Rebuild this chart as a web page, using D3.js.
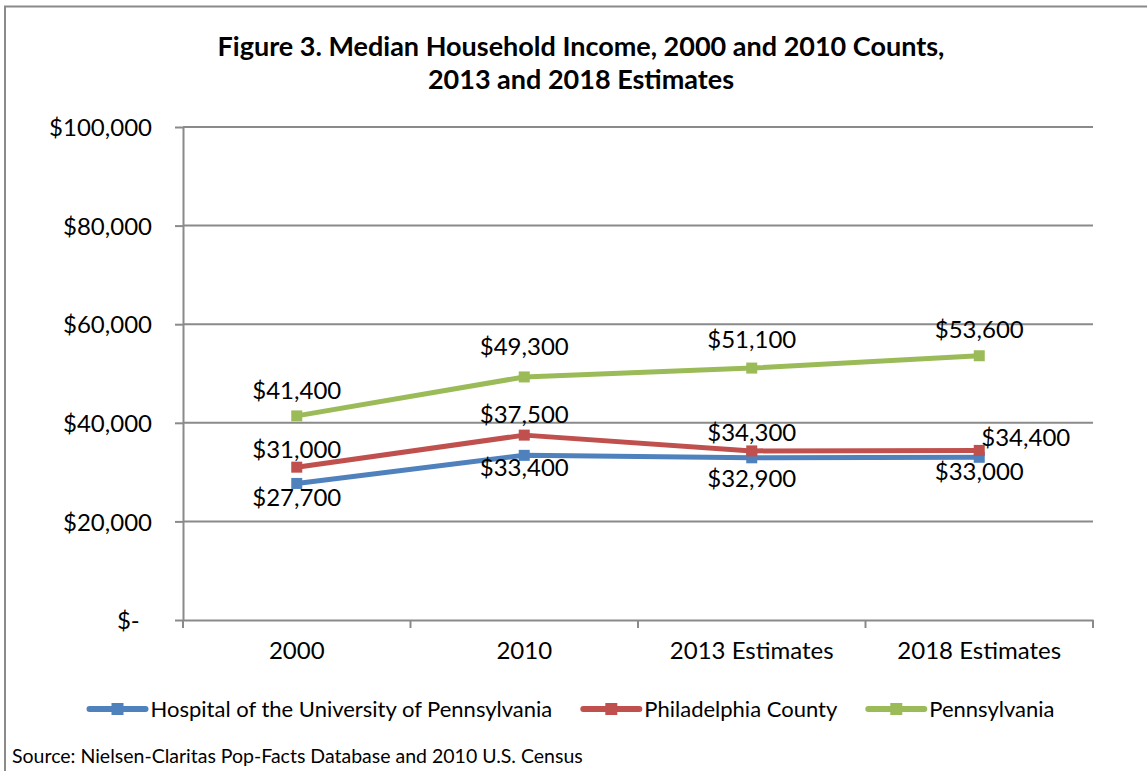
<!DOCTYPE html>
<html>
<head>
<meta charset="utf-8">
<script src="https://cdn.jsdelivr.net/npm/d3@7"></script>
<style>
  body { margin: 0; background: #fff; }
  svg text { font-family: Lato, "Open Sans", sans-serif; fill: #000; }
  .axis path, .axis line { stroke: #8a8a8a; stroke-width: 2; }
  .axis text { font-size: 24px; }
  .title { font-size: 27px; font-weight: bold; }
  .value-label { font-size: 24px; }
  .legend text { font-size: 22px; }
  .source { font-size: 19.5px; }
</style>
</head>
<body>
<div id="chart"></div>
<script>
// Chart data
const categories = ['2000', '2010', '2013 Estimates', '2018 Estimates'];
const seriesNames = ['Hospital of the University of Pennsylvania', 'Philadelphia County', 'Pennsylvania'];
const hospitalValues = [27700, 33400, 32900, 33000];
const philadelphiaValues = [31000, 37500, 34300, 34400];
const pennsylvaniaValues = [41400, 49300, 51100, 53600];
const yTicks = [0, 20000, 40000, 60000, 80000, 100000];

const colors = ['#4f81bd', '#c0504d', '#9bbb59'];

const series = [
    { name: seriesNames[0], values: hospitalValues, color: colors[0] },
    { name: seriesNames[1], values: philadelphiaValues, color: colors[1] },
    { name: seriesNames[2], values: pennsylvaniaValues, color: colors[2] }
];

// label offsets (vertical distance of label centre from point), 'r' = to the right
const labelOffsets = [
    [14, 12, 21, 14],
    [-18, -21, -19, 'r'],
    [-26, -31, -29, -26]
];

const W = 1147, H = 771;
const margin = { top: 127, right: 54, bottom: 151, left: 183 };
const width = W - margin.left - margin.right;
const height = H - margin.top - margin.bottom;

const root = d3.select('#chart')
    .append('svg')
    .attr('width', W)
    .attr('height', H);

// outer frame
root.append('rect')
    .attr('x', 5)
    .attr('y', 6.5)
    .attr('width', W + 20)
    .attr('height', H + 20)
    .attr('fill', 'none')
    .attr('stroke', '#8a8a8a')
    .attr('stroke-width', 2);

// title
const title = root.append('text')
    .attr('class', 'title')
    .attr('text-anchor', 'middle');
title.append('tspan').attr('x', 581).attr('y', 56)
    .text('Figure 3. Median Household Income, 2000 and 2010 Counts,');
title.append('tspan').attr('x', 581).attr('y', 89)
    .text('2013 and 2018 Estimates');

const svg = root.append('g')
    .attr('transform', `translate(${margin.left},${margin.top})`);

const x = d3.scaleBand()
    .domain(categories)
    .range([0, width]);

const y = d3.scaleLinear()
    .domain([0, 100000])
    .range([height, 0]);

// gridlines
svg.append('g')
    .selectAll('line')
    .data(yTicks.slice(1))
    .enter()
    .append('line')
    .attr('x1', 0)
    .attr('x2', width)
    .attr('y1', d => y(d))
    .attr('y2', d => y(d))
    .attr('stroke', '#8a8a8a')
    .attr('stroke-width', 2);

// y axis
svg.append('g')
    .attr('class', 'axis y-axis')
    .call(d3.axisLeft(y)
        .tickValues(yTicks)
        .tickSize(8)
        .tickPadding(23)
        .tickSizeOuter(0)
        .tickFormat(d => d === 0 ? '$-\u00a0\u00a0' : `$${d3.format(',')(d)}`))
    .selectAll('text')
    .attr('dy', '0.36em');

// x axis
const xAxis = svg.append('g')
    .attr('class', 'axis x-axis')
    .attr('transform', `translate(0,${height})`)
    .call(d3.axisBottom(x).tickSize(0).tickPadding(22).tickSizeOuter(0));

xAxis.selectAll('.tick line').remove();

// category boundary ticks
xAxis.selectAll('.boundary')
    .data(categories.map(c => x(c)).concat([width]))
    .enter()
    .append('line')
    .attr('class', 'boundary')
    .attr('x1', d => d)
    .attr('x2', d => d)
    .attr('y1', 0)
    .attr('y2', 8);

const line = d3.line()
    .x((d, i) => x(categories[i]) + x.bandwidth() / 2)
    .y(d => y(d));

// lines and markers
series.forEach((s, si) => {
    svg.append('path')
        .datum(s.values)
        .attr('fill', 'none')
        .attr('stroke', s.color)
        .attr('stroke-width', 5)
        .attr('stroke-linejoin', 'round')
        .attr('d', line);

    svg.selectAll(`.marker-${si}`)
        .data(s.values)
        .enter()
        .append('rect')
        .attr('class', `marker-${si}`)
        .attr('x', (d, i) => x(categories[i]) + x.bandwidth() / 2 - 5.5)
        .attr('y', d => y(d) - 5.5)
        .attr('width', 11)
        .attr('height', 11)
        .attr('fill', s.color);
});

// value labels
series.forEach((s, si) => {
    svg.selectAll(`.label-${si}`)
        .data(s.values)
        .enter()
        .append('text')
        .attr('class', `value-label label-${si}`)
        .attr('text-anchor', (d, i) => labelOffsets[si][i] === 'r' ? 'start' : 'middle')
        .attr('x', (d, i) => x(categories[i]) + x.bandwidth() / 2 + (labelOffsets[si][i] === 'r' ? 2 : 0))
        .attr('y', (d, i) => y(d) + (labelOffsets[si][i] === 'r' ? -13 : labelOffsets[si][i]))
        .attr('dy', '0.36em')
        .text(d => `$${d3.format(',')(d)}`);
});

// legend
const legend = root.append('g').attr('class', 'legend');
const items = legend.selectAll('g')
    .data(series)
    .enter()
    .append('g');

items.append('line')
    .attr('x1', 0).attr('x2', 56)
    .attr('y1', 0).attr('y2', 0)
    .attr('stroke', d => d.color)
    .attr('stroke-width', 6)
    .attr('stroke-linecap', 'round');

items.append('rect')
    .attr('x', 22).attr('y', -6)
    .attr('width', 12).attr('height', 12)
    .attr('fill', d => d.color);

items.append('text')
    .attr('x', 61)
    .attr('y', 0)
    .attr('dy', '0.36em')
    .text(d => d.name);

let offset = 0;
const gaps = [];
items.each(function () {
    const w = 61 + this.querySelector('text').getComputedTextLength();
    gaps.push(offset);
    offset += w + 31;
});
const total = offset - 31;
items.attr('transform', (d, i) => `translate(${572 - total / 2 + gaps[i]},709)`);

// source note
root.append('text')
    .attr('class', 'source')
    .attr('x', 12)
    .attr('y', 763)
    .text('Source: Nielsen-Claritas Pop-Facts Database and 2010 U.S. Census');
</script>
</body>
</html>
